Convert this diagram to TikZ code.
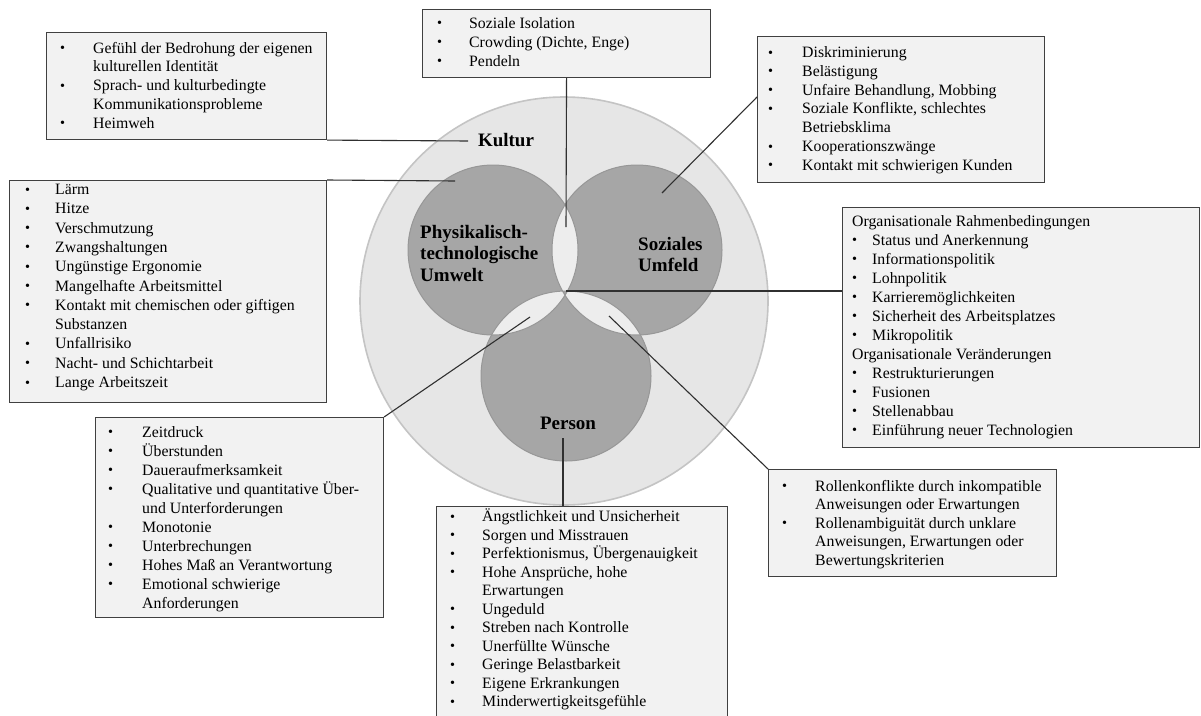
\documentclass[tikz,border=0pt]{standalone}
\usepackage{fontspec}
\usepackage{graphicx}
\setmainfont{Liberation Serif}
\usetikzlibrary{calc}
\definecolor{boxfill}{HTML}{F2F2F2}
\definecolor{boxline}{HTML}{404040}
\definecolor{outerfill}{HTML}{E6E6E6}
\definecolor{outerline}{HTML}{C4C4C4}
\definecolor{innerfill}{HTML}{A6A6A6}
\definecolor{innerline}{HTML}{979797}
\definecolor{lensfill}{HTML}{EDEDED}
\definecolor{connline}{HTML}{303030}
\newlength\bw
\newcommand\bu{\makebox[\bw][l]{\raisebox{0.03em}{\scalebox{0.9}{\textbullet}}}}
\newcommand\cont{\hspace*{\bw}}
\newcommand\blist[4]{\parbox[t]{#1}{\fontsize{15.8}{#3}\selectfont\lineskiplimit=-30pt\setlength\bw{#2}\raggedright #4}}
\tikzset{
  infobox/.style={draw=boxline, fill=boxfill, line width=1.1pt, rectangle, inner sep=0pt, anchor=north west},
  listtext/.style={anchor=base west, inner sep=0pt},
  conn/.style={draw=connline, line width=1.1pt},
  circlabel/.style={font=\fontsize{19}{21.7}\selectfont\bfseries, inner sep=0pt},
  outercirc/.style={fill=outerfill, draw=outerline, line width=1.6pt},
  innercirc/.style={fill=innerfill},
  innerrim/.style={draw=innerline, line width=1pt}
}
\begin{document}
\begin{tikzpicture}[x=1pt,y=-1pt]
\useasboundingbox (0,0) rectangle (1201,715);
\fill[white] (0,0) rectangle (1201,715);
% circles
\coordinate (oc) at (564,301);
\coordinate (pc) at (493,250);
\coordinate (sc) at (637,250);
\coordinate (rc) at (566,376);
\draw[outercirc] (oc) circle[radius=204];
\fill[innercirc] (pc) circle[radius=85];
\fill[innercirc] (sc) circle[radius=85];
\fill[innercirc] (rc) circle[radius=85];
\begin{scope}
  \clip (pc) circle[radius=85];
  \fill[lensfill] (sc) circle[radius=85];
  \fill[lensfill] (rc) circle[radius=85];
\end{scope}
\begin{scope}
  \clip (sc) circle[radius=85];
  \fill[lensfill] (rc) circle[radius=85];
\end{scope}
\begin{scope}
  \clip (pc) circle[radius=85];
  \clip (sc) circle[radius=85];
  \fill[innercirc] (rc) circle[radius=85];
\end{scope}
\draw[innerrim] (pc) circle[radius=85];
\draw[innerrim] (sc) circle[radius=85];
\draw[innerrim] (rc) circle[radius=85];

% circle labels
\node[circlabel, anchor=base west] (phys) at (420,238) {\parbox[t]{140pt}{\fontsize{19}{21.7}\selectfont\bfseries Physikalisch-\\technologische\\Umwelt}};
\node[circlabel, anchor=base west] (soz) at (638,250) {\parbox[t]{80pt}{\fontsize{19}{21.7}\selectfont\bfseries Soziales\\Umfeld}};
\node[circlabel, anchor=base] (kul) at (506,146) {Kultur};
\node[circlabel, anchor=base] (per) at (568,429) {Person};

% boxes
\node[infobox, minimum width=280, minimum height=107] (A) at (46,32) {};
\node[infobox, minimum width=288, minimum height=68] (B) at (422,9) {};
\node[infobox, minimum width=287, minimum height=146] (C) at (757,36) {};
\node[infobox, minimum width=317, minimum height=222] (D) at (9,180) {};
\node[infobox, minimum width=357, minimum height=240] (E) at (842,207) {};
\node[infobox, minimum width=288, minimum height=200] (F) at (95,417) {};
\node[infobox, minimum width=291, minimum height=230] (G) at (436,506) {};
\node[infobox, minimum width=288, minimum height=107] (H) at (768,469) {};

% connector points
\coordinate (k1) at (468,141);
\coordinate (b1) at (566,227);
\coordinate (c1) at (662,193);
\coordinate (d1) at (455,181);
\coordinate (ctr) at (566,291);
\coordinate (f1) at (530,317);
\coordinate (g1) at (563,438);
\coordinate (h1) at (609,316);

\draw[conn] (A.south east) -- (k1);
\draw[conn] (B.south) -- (b1);
\draw[conn] ([yshift=-61pt]C.north west) -- (c1);
\draw[conn] (D.north east) -- (d1);
\draw[conn] (ctr) -- (ctr -| E.west);
\draw[conn] (f1) -- (F.north east);
\draw[conn] (g1) -- (g1 |- G.north);
\draw[conn] (h1) -- (H.north west);

% box texts
\node[listtext] (At) at (60,53) {\blist{260pt}{33pt}{18.75}{%
\bu Gefühl der Bedrohung der eigenen\\
\cont kulturellen Identität\\
\bu Sprach- und kulturbedingte\\
\cont Kommunikationsprobleme\\
\bu Heimweh}};

\node[listtext] (Bt) at (437,28) {\blist{260pt}{32pt}{19}{%
\bu Soziale Isolation\\
\bu Crowding (Dichte, Enge)\\
\bu Pendeln}};

\node[listtext] (Ct) at (768,57.5) {\blist{270pt}{34pt}{18.8}{%
\bu Diskriminierung\\
\bu Belästigung\\
\bu Unfaire Behandlung, Mobbing\\
\bu Soziale Konflikte, schlechtes\\
\cont Betriebsklima\\
\bu Kooperationszwänge\\
\bu Kontakt mit schwierigen Kunden}};

\node[listtext] (Dt) at (25,194.5) {\blist{295pt}{30pt}{19.3}{%
\bu Lärm\\
\bu Hitze\\
\bu Verschmutzung\\
\bu Zwangshaltungen\\
\bu Ungünstige Ergonomie\\
\bu Mangelhafte Arbeitsmittel\\
\bu Kontakt mit chemischen oder giftigen\\
\cont Substanzen\\
\bu Unfallrisiko\\
\bu Nacht- und Schichtarbeit\\
\bu Lange Arbeitszeit}};

\node[listtext] (Et) at (852,226) {\blist{340pt}{20pt}{19}{%
Organisationale Rahmenbedingungen\\
\bu Status und Anerkennung\\
\bu Informationspolitik\\
\bu Lohnpolitik\\
\bu Karrieremöglichkeiten\\
\bu Sicherheit des Arbeitsplatzes\\
\bu Mikropolitik\\
Organisationale Veränderungen\\
\bu Restrukturierungen\\
\bu Fusionen\\
\bu Stellenabbau\\
\bu Einführung neuer Technologien}};

\node[listtext] (Ft) at (108,437) {\blist{270pt}{34pt}{19}{%
\bu Zeitdruck\\
\bu Überstunden\\
\bu Daueraufmerksamkeit\\
\bu Qualitative und quantitative Über-\\
\cont und Unterforderungen\\
\bu Monotonie\\
\bu Unterbrechungen\\
\bu Hohes Maß an Verantwortung\\
\bu Emotional schwierige\\
\cont Anforderungen}};

\node[listtext] (Gt) at (450,521.5) {\blist{275pt}{32pt}{18.5}{%
\bu Ängstlichkeit und Unsicherheit\\
\bu Sorgen und Misstrauen\\
\bu Perfektionismus, Übergenauigkeit\\
\bu Hohe Ansprüche, hohe\\
\cont Erwartungen\\
\bu Ungeduld\\
\bu Streben nach Kontrolle\\
\bu Unerfüllte Wünsche\\
\bu Geringe Belastbarkeit\\
\bu Eigene Erkrankungen\\
\bu Minderwertigkeitsgefühle}};

\node[listtext] (Ht) at (782,491) {\blist{270pt}{33pt}{18.5}{%
\bu Rollenkonflikte durch inkompatible\\
\cont Anweisungen oder Erwartungen\\
\bu Rollenambiguität durch unklare\\
\cont Anweisungen, Erwartungen oder\\
\cont Bewertungskriterien}};
\end{tikzpicture}
\end{document}
